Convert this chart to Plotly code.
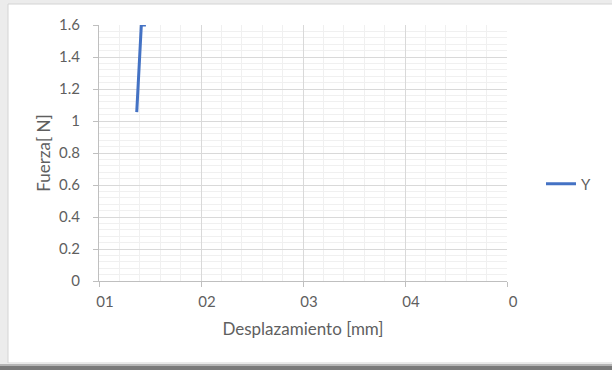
import plotly.graph_objects as go

# datos
desplazamiento = [0.37, 0.415, 0.46]
fuerza = [1.055, 1.6, 1.6]
x_ticks = [0, 1, 2, 3, 4]
x_ticktext = ["01", "02", "03", "04", "0"]
y_ticks = [0, 0.2, 0.4, 0.6, 0.8, 1.0, 1.2, 1.4, 1.6]
y_ticktext = ["0", "0.2", "0.4", "0.6", "0.8", "1", "1.2", "1.4", "1.6"]

W, H = 612, 370
L, R, T, B = 99, 507, 25, 281


def px(x):
    return (x - L) / (R - L)


def py(y):
    return (B - y) / (B - T)


fig = go.Figure()
fig.add_trace(go.Scatter(
    x=desplazamiento, y=fuerza, mode='lines', name='Y',
    line=dict(color='#4472c4', width=3)
))

# marco del gráfico estilo Excel
shapes = [
    dict(type='rect', x0=px(0), x1=px(8), y0=py(370), y1=py(0), fillcolor='#ececec', line_width=0, layer='below'),
    dict(type='rect', x0=px(0), x1=px(612), y0=py(4), y1=py(0), fillcolor='#ececec', line_width=0, layer='below'),
    dict(type='rect', x0=px(8), x1=px(620), y0=py(363), y1=py(4), fillcolor='white', line=dict(color='#d4d4d4', width=1), layer='below'),
    dict(type='rect', x0=px(0), x1=px(612), y0=py(370), y1=py(364), fillcolor='#7a7a7a', line_width=0, layer='below'),
    dict(type='rect', x0=px(0), x1=px(612), y0=py(366), y1=py(364), fillcolor='#b5b5b5', line_width=0, layer='below'),
]
for s in shapes:
    s.update(xref='paper', yref='paper')

font = dict(family='Lato, Open Sans, sans-serif', size=15, color='#5f5f5f')

fig.update_layout(
    width=W, height=H,
    margin=dict(l=L, r=W - R, t=T, b=H - B),
    paper_bgcolor='white', plot_bgcolor='white',
    font=font,
    shapes=shapes,
    showlegend=True,
    legend=dict(x=px(541), y=py(184), xanchor='left', yanchor='middle',
                font=dict(size=15, color='#5f5f5f'), bgcolor='rgba(0,0,0,0)'),
    xaxis=dict(
        range=[0, 4], tickvals=x_ticks, ticktext=x_ticktext,
        showgrid=True, gridcolor='#d9d9d9', gridwidth=1,
        minor=dict(dtick=0.2, tick0=0, showgrid=True, gridcolor='#f0f0f0', ticks=''),
        showline=True, linecolor='#bfbfbf', linewidth=1,
        ticks='outside', ticklen=5, tickcolor='#bfbfbf',
        ticklabelstandoff=2, ticklabelshift=6,
        zeroline=False,
        title=dict(text='Desplazamiento [mm]', standoff=14, font=dict(size=17, color='#5f5f5f')),
    ),
    yaxis=dict(
        range=[0, 1.6], tickvals=y_ticks, ticktext=y_ticktext,
        showgrid=True, gridcolor='#d9d9d9', gridwidth=1,
        minor=dict(dtick=0.04, tick0=0, showgrid=True, gridcolor='#f0f0f0', ticks=''),
        showline=True, linecolor='#bfbfbf', linewidth=1,
        ticks='outside', ticklen=5, tickcolor='#bfbfbf',
        ticklabelstandoff=10,
        zeroline=False,
        title=dict(text='Fuerza[ N]', standoff=4, font=dict(size=17, color='#5f5f5f')),
    ),
)

fig.write_html("out.html", config={'displayModeBar': False},
               post_script="document.body.style.margin='0';")
